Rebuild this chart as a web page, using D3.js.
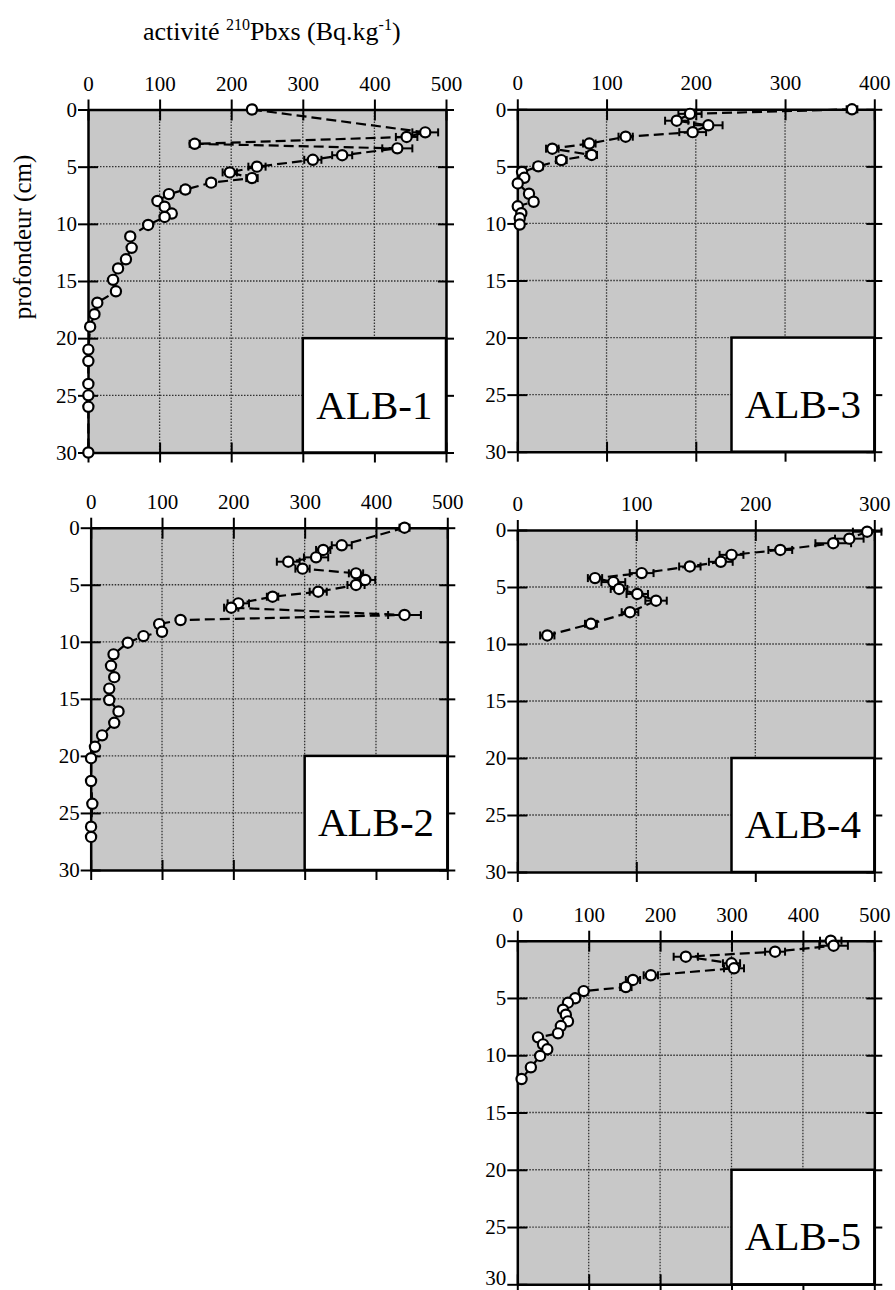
<!DOCTYPE html>
<html><head><meta charset="utf-8">
<script src="https://cdn.jsdelivr.net/npm/d3@7"></script>
<style>
body{margin:0;background:#fff}
svg{display:block}
text{font-family:"Liberation Serif","Times New Roman",Tinos,serif;fill:#000}
</style>
</head><body>
<svg id="chart" width="895" height="1290"></svg>
<script>
// ---------- data ----------
const panelNames = ["ALB-1", "ALB-3", "ALB-2", "ALB-4", "ALB-5"];
const depthTicks = [0, 5, 10, 15, 20, 25, 30];
const xTicks500 = [0, 100, 200, 300, 400, 500];
const xTicks400 = [0, 100, 200, 300, 400];
const xTicks300 = [0, 100, 200, 300];

const depth1 = [0, 2, 2.4, 3, 3.4, 4, 4.4, 5, 5.5, 6, 6.4, 7, 7.4, 8, 8.5, 9.1, 9.4, 10.1, 11.1, 12.1, 13.1, 13.9, 14.9, 15.9, 16.9, 17.9, 19, 21, 22, 24, 25, 26, 30];
const act1   = [229, 471, 445, 149, 432, 355, 314, 236, 198, 229, 172, 136, 113, 97, 107, 117, 107, 84, 59, 61, 53, 42, 35, 39, 13, 9, 3, 0.5, 0.5, 0.5, 0.5, 0.5, 0.5];
const err1   = [5, 18, 15, 7, 21, 14, 12, 12, 10, 8, 6, 6, 5, 5, 5, 5, 5, 4, 4, 4, 3, 3, 3, 3, 2, 2, 1, 1, 1, 1, 1, 1, 1];

const depth3 = [0, 0.4, 1, 1.4, 2, 2.4, 3, 3.45, 4, 4.45, 5, 5.5, 6, 6.5, 7.4, 8.1, 8.5, 9.1, 9.55, 10.1];
const act3   = [375, 193.5, 178.6, 214, 196.5, 121.4, 80.7, 39.2, 83.3, 49.3, 23.5, 5.3, 7.8, 0.5, 13.1, 18.3, 0.5, 4.5, 2.7, 2.7];
const err3   = [6, 13, 13, 16, 15, 8, 7, 7, 6, 6, 5, 4, 4, 3, 4, 4, 3, 3, 3, 3];

const depth2 = [0, 1.54, 1.95, 2.6, 2.98, 3.59, 4.0, 4.58, 5.02, 5.61, 6.05, 6.63, 7.01, 7.65, 8.09, 8.45, 9.12, 9.5, 10.08, 11.1, 12.1, 13.1, 14.1, 15.1, 16.1, 17.1, 18.2, 19.2, 20.2, 22.2, 24.2, 26.2, 27.1];
const act2   = [440, 352, 326, 316, 277, 297, 372, 385, 372, 319, 255, 207, 197, 440, 126, 96, 100, 74, 52, 32, 28.5, 33, 26, 26, 39, 33, 16, 6, 0.5, 0.5, 2.3, 0.5, 0.5];
const err2   = [7, 14, 10, 17, 16, 10, 10, 14, 12, 12, 8, 15, 10, 23, 5, 5, 5, 4, 4, 3, 3, 3, 3, 3, 3, 3, 2, 2, 1, 1, 1, 1, 1];

const depth4 = [0.15, 0.76, 1.16, 1.75, 2.18, 2.79, 3.2, 3.78, 4.22, 4.57, 5.17, 5.61, 6.2, 7.21, 8.23, 9.25];
const act4   = [294, 279, 265.5, 221, 180, 171, 145, 104.5, 65.3, 80.7, 85.5, 100.8, 116.6, 94.7, 61.9, 25.2];
const err4   = [12, 12, 15, 10, 10, 10, 9, 10, 6, 10, 7, 9, 9, 7, 5, 6];

const depth5 = [0, 0.44, 0.96, 1.4, 1.97, 2.41, 3.02, 3.43, 4.05, 4.4, 5.03, 5.41, 6.02, 6.46, 7.04, 7.45, 8.09, 8.44, 9.05, 9.48, 10.06, 11.06, 12.08];
const act5   = [439, 443, 361, 236, 300, 303.5, 187, 162, 152, 93, 81, 71, 64, 68, 71, 61, 57, 29, 36, 42, 32, 19, 6];
const err5   = [15, 20, 14, 17, 12, 14, 10, 10, 8, 5, 5, 4, 4, 4, 4, 4, 4, 3, 3, 3, 3, 2, 2];

const titleMain = "activité ";
const titleSup1 = "210";
const titleMid = "Pbxs (Bq.kg";
const titleSup2 = "-1";
const titleEnd = ")";
const yLabel = "profondeur (cm)";

// ---------- layout ----------
const FONT = '"Liberation Serif","Times New Roman",Tinos,serif';
const panels = [
  {name: panelNames[0], xTicks: xTicks500, depth: depth1, act: act1, err: err1, left: 88,    right: 446,   top: 109.5, bottom: 452.5},
  {name: panelNames[1], xTicks: xTicks400, depth: depth3, act: act3, err: err3, left: 517.3, right: 874.3, top: 109.3, bottom: 451.7},
  {name: panelNames[2], xTicks: xTicks500, depth: depth2, act: act2, err: err2, left: 90.7,  right: 447.3, top: 527.7, bottom: 870},
  {name: panelNames[3], xTicks: xTicks300, depth: depth4, act: act4, err: err4, left: 517.3, right: 874.3, top: 530,   bottom: 872},
  {name: panelNames[4], xTicks: xTicks500, depth: depth5, act: act5, err: err5, left: 517.3, right: 874.3, top: 940.7, bottom: 1284.3, lastLabelShift: -7}
];

const svg = d3.select("#chart");

// title
const title = svg.append("text").attr("x", 143).attr("y", 40).attr("font-size", 26).attr("font-family", FONT);
title.append("tspan").text(titleMain);
title.append("tspan").attr("font-size", 16).attr("dy", -10).text(titleSup1);
title.append("tspan").attr("dy", 10).text(titleMid);
title.append("tspan").attr("font-size", 16).attr("dy", -10).text(titleSup2);
title.append("tspan").attr("dy", 10).text(titleEnd);

// y label
svg.append("text")
  .attr("transform", "translate(31,237) rotate(-90)")
  .attr("text-anchor", "middle")
  .attr("font-size", 25)
  .attr("font-family", FONT)
  .text(yLabel);

function drawPanel(p) {
  const xMax = p.xTicks[p.xTicks.length - 1];
  const x = d3.scaleLinear().domain([0, xMax]).range([p.left, p.right]);
  const y = d3.scaleLinear().domain([0, 30]).range([p.top, p.bottom]);
  const g = svg.append("g");

  g.append("rect")
    .attr("x", p.left).attr("y", p.top)
    .attr("width", p.right - p.left).attr("height", p.bottom - p.top)
    .attr("fill", "#c8c8c8");

  // grid
  g.selectAll(null).data(p.xTicks.slice(1, -1)).enter().append("line")
    .attr("x1", d => x(d)).attr("x2", d => x(d))
    .attr("y1", p.top).attr("y2", p.bottom)
    .attr("stroke", "#333").attr("stroke-width", 1.3).attr("stroke-dasharray", "1.5,1.5");
  g.selectAll(null).data(depthTicks.slice(1, -1)).enter().append("line")
    .attr("y1", d => y(d)).attr("y2", d => y(d))
    .attr("x1", p.left).attr("x2", p.right)
    .attr("stroke", "#333").attr("stroke-width", 1.3).attr("stroke-dasharray", "1.5,1.5");

  // axes
  const axTop = g.append("g").attr("transform", `translate(0,${p.top})`)
    .call(d3.axisTop(x).tickValues(p.xTicks).tickSize(10).tickSizeOuter(0).tickPadding(9).tickFormat(d3.format("d")));
  axTop.selectAll(".tick line").attr("y1", 11);
  const axBot = g.append("g").attr("transform", `translate(0,${p.bottom})`)
    .call(d3.axisBottom(x).tickValues(p.xTicks).tickSize(10).tickSizeOuter(0).tickFormat(""));
  axBot.selectAll(".tick line").attr("y1", -10);
  const axLeft = g.append("g").attr("transform", `translate(${p.left},0)`)
    .call(d3.axisLeft(y).tickValues(depthTicks).tickSize(10).tickSizeOuter(0).tickPadding(1).tickFormat(d3.format("d")));
  axLeft.selectAll(".tick line").attr("x1", 10);
  if (p.lastLabelShift) {
    axLeft.selectAll(".tick text").filter(d => d === 30).attr("y", p.lastLabelShift);
  }
  const axRight = g.append("g").attr("transform", `translate(${p.right},0)`)
    .call(d3.axisRight(y).tickValues(depthTicks).tickSize(8).tickSizeOuter(0).tickFormat(""));
  axRight.selectAll(".tick line").attr("x1", -8);

  [axTop, axBot, axLeft, axRight].forEach(a => {
    a.attr("font-family", FONT);
    a.selectAll(".tick line").attr("stroke", "#000").attr("stroke-width", 2);
    a.select(".domain").attr("stroke", "#000").attr("stroke-width", 2.5);
    a.selectAll("text").attr("font-size", 21).attr("font-family", FONT).attr("fill", "#000");
  });

  // label box
  const bx = p.left + 0.6 * (p.right - p.left);
  g.append("rect")
    .attr("x", bx).attr("y", y(20))
    .attr("width", p.right - bx).attr("height", y(30) - y(20))
    .attr("fill", "#fff").attr("stroke", "#000").attr("stroke-width", 2.5);
  g.append("text")
    .attr("x", (bx + p.right) / 2).attr("y", y(30) - 34)
    .attr("text-anchor", "middle").attr("font-size", 41).attr("font-family", FONT)
    .text(p.name);

  const pts = p.depth.map((d, i) => ({d: d, a: p.act[i], e: p.err[i]}));

  // dashed line
  g.append("path").datum(pts)
    .attr("d", d3.line().x(v => x(v.a)).y(v => y(v.d)))
    .attr("fill", "none").attr("stroke", "#000").attr("stroke-width", 2.2)
    .attr("stroke-dasharray", "10,5");

  // error bars
  const eb = g.selectAll(null).data(pts).enter().append("g");
  eb.append("line")
    .attr("x1", v => x(v.a - v.e)).attr("x2", v => x(v.a + v.e))
    .attr("y1", v => y(v.d)).attr("y2", v => y(v.d))
    .attr("stroke", "#000").attr("stroke-width", 2);
  eb.append("line")
    .attr("x1", v => x(v.a - v.e)).attr("x2", v => x(v.a - v.e))
    .attr("y1", v => y(v.d) - 4).attr("y2", v => y(v.d) + 4)
    .attr("stroke", "#000").attr("stroke-width", 2);
  eb.append("line")
    .attr("x1", v => x(v.a + v.e)).attr("x2", v => x(v.a + v.e))
    .attr("y1", v => y(v.d) - 4).attr("y2", v => y(v.d) + 4)
    .attr("stroke", "#000").attr("stroke-width", 2);

  // markers
  g.selectAll(null).data(pts).enter().append("circle")
    .attr("cx", v => x(v.a)).attr("cy", v => y(v.d)).attr("r", 5.1)
    .attr("fill", "#fff").attr("stroke", "#000").attr("stroke-width", 2.2);
}

panels.forEach(drawPanel);
</script>
</body></html>
